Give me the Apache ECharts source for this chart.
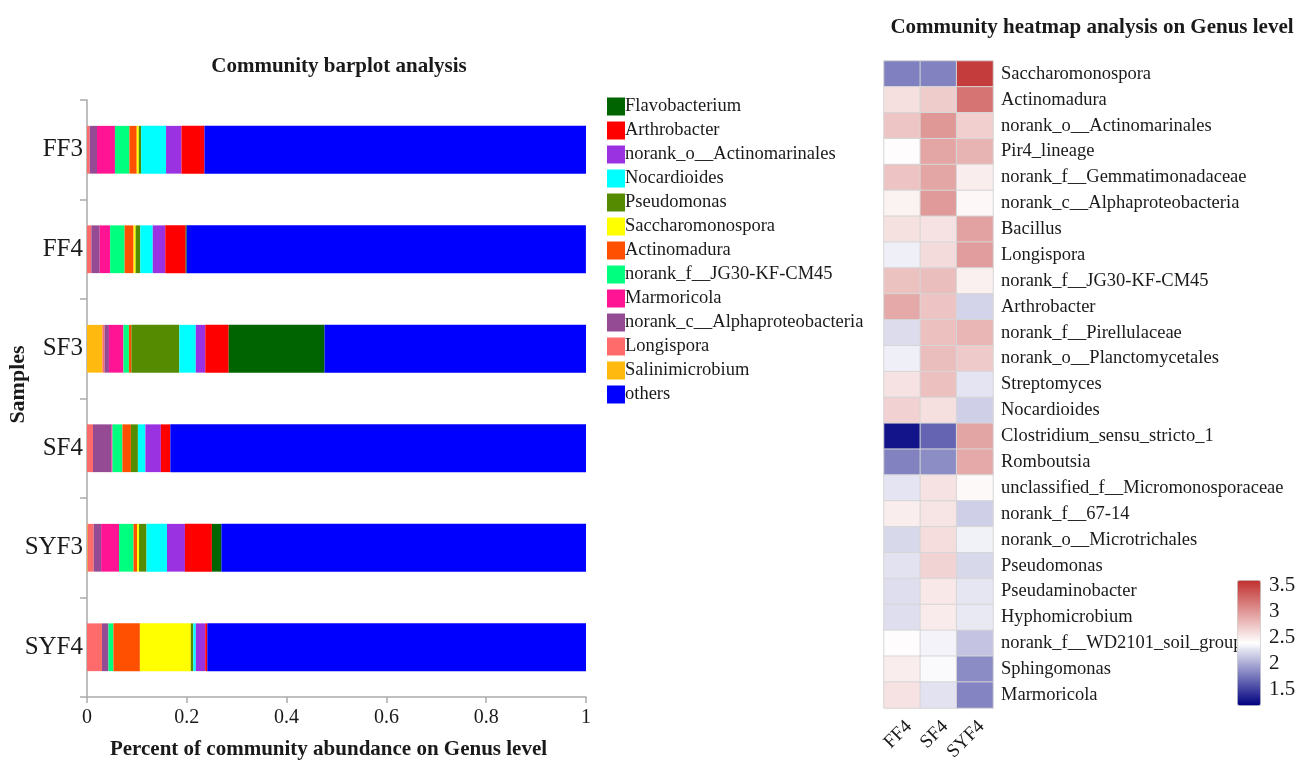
<!DOCTYPE html>
<html>
<head>
<meta charset="utf-8">
<script src="https://cdn.jsdelivr.net/npm/echarts@6/dist/echarts.min.js"></script>
<style>
  html, body { margin: 0; padding: 0; background: #fff; }
  #chart { width: 1299px; height: 762px; }
</style>
</head>
<body>
<div id="chart"></div>
<script>
// Samples shown in the stacked bar panel (top to bottom)
const samples = ['FF3', 'FF4', 'SF3', 'SF4', 'SYF3', 'SYF4'];

// Genera in stacking order (left to right inside each bar)
const genera = [
  'Salinimicrobium', 'Longispora', 'norank_c__Alphaproteobacteria', 'Marmoricola',
  'norank_f__JG30-KF-CM45', 'Actinomadura', 'Saccharomonospora', 'Pseudomonas',
  'Nocardioides', 'norank_o__Actinomarinales', 'Arthrobacter', 'Flavobacterium', 'others'
];

// Legend order (top to bottom)
const legendOrder = [
  'Flavobacterium', 'Arthrobacter', 'norank_o__Actinomarinales', 'Nocardioides',
  'Pseudomonas', 'Saccharomonospora', 'Actinomadura', 'norank_f__JG30-KF-CM45',
  'Marmoricola', 'norank_c__Alphaproteobacteria', 'Longispora', 'Salinimicrobium', 'others'
];

// Relative abundance per genus, one value per sample (FF3, FF4, SF3, SF4, SYF3, SYF4)
const salinimicrobium   = [0,      0,      0.031, 0,     0.0013, 0];
const longispora        = [0.0053, 0.0087, 0.004, 0.012, 0.012,  0.030];
const alphaproteobact   = [0.0147, 0.0167, 0.009, 0.037, 0.015,  0.013];
const marmoricola       = [0.036,  0.021,  0.029, 0.002, 0.036,  0];
const jg30              = [0.029,  0.029,  0.011, 0.020, 0.029,  0.010];
const actinomadura      = [0.0147, 0.018,  0.005, 0.017, 0.007,  0.053];
const saccharomonospora = [0.004,  0.004,  0,     0,     0.004,  0.102];
const pseudomonas       = [0.0047, 0.0094, 0.096, 0.014, 0.015,  0.005];
const nocardioides      = [0.050,  0.025,  0.033, 0.015, 0.041,  0.005];
const actinomarinales   = [0.031,  0.025,  0.019, 0.031, 0.036,  0.019];
const arthrobacter      = [0.046,  0.041,  0.047, 0.019, 0.054,  0.004];
const flavobacterium    = [0,      0.002,  0.192, 0,     0.019,  0];
const others            = [0.765,  0.800,  0.524, 0.833, 0.731,  0.759];

const abundance = [
  salinimicrobium, longispora, alphaproteobact, marmoricola, jg30, actinomadura,
  saccharomonospora, pseudomonas, nocardioides, actinomarinales, arthrobacter,
  flavobacterium, others
];

const genusColors = [
  '#FFB90F', '#FF6A6A', '#954B93', '#FF1493', '#00FF7F', '#FF4F00',
  '#FFFF00', '#548B00', '#00FFFF', '#9A32E2', '#FF0000', '#006400', '#0000FF'
];

const xTicks = [0, 0.2, 0.4, 0.6, 0.8, 1];

// Heatmap: genera (rows, top to bottom) x samples (columns)
const heatSamples = ['FF4', 'SF4', 'SYF4'];
const heatGenera = [
  'Saccharomonospora', 'Actinomadura', 'norank_o__Actinomarinales', 'Pir4_lineage',
  'norank_f__Gemmatimonadaceae', 'norank_c__Alphaproteobacteria', 'Bacillus', 'Longispora',
  'norank_f__JG30-KF-CM45', 'Arthrobacter', 'norank_f__Pirellulaceae',
  'norank_o__Planctomycetales', 'Streptomyces', 'Nocardioides', 'Clostridium_sensu_stricto_1',
  'Romboutsia', 'unclassified_f__Micromonosporaceae', 'norank_f__67-14',
  'norank_o__Microtrichales', 'Pseudomonas', 'Pseudaminobacter', 'Hyphomicrobium',
  'norank_f__WD2101_soil_group', 'Sphingomonas', 'Marmoricola'
];
// log-scaled abundance per row: [FF4, SF4, SYF4]
const heatValues = [
  [1.81, 1.82, 3.53],
  [2.59, 2.70, 3.21],
  [2.74, 3.00, 2.68],
  [2.42, 2.92, 2.84],
  [2.75, 2.92, 2.51],
  [2.48, 2.99, 2.45],
  [2.58, 2.57, 2.94],
  [2.33, 2.61, 2.97],
  [2.76, 2.78, 2.49],
  [2.90, 2.75, 2.20],
  [2.24, 2.77, 2.83],
  [2.33, 2.78, 2.71],
  [2.57, 2.77, 2.28],
  [2.67, 2.59, 2.18],
  [1.30, 1.68, 2.93],
  [1.82, 1.87, 2.90],
  [2.28, 2.57, 2.44],
  [2.51, 2.56, 2.18],
  [2.22, 2.60, 2.34],
  [2.27, 2.66, 2.22],
  [2.25, 2.54, 2.29],
  [2.25, 2.52, 2.30],
  [2.42, 2.35, 2.13],
  [2.51, 2.38, 1.86],
  [2.57, 2.27, 1.83]
];
const colorMin = 1.21;
const colorMax = 3.6;
const colorTicks = [1.5, 2, 2.5, 3, 3.5];

const FONT = 'Liberation Serif';
const TEXT = '#1a1a1a';

const heatData = [];
heatValues.forEach((row, r) => {
  row.forEach((v, c) => heatData.push([c, r, v]));
});

const barSeries = genera.map((name, i) => ({
  name: name,
  type: 'bar',
  stack: 'total',
  xAxisIndex: 0,
  yAxisIndex: 0,
  barWidth: '48%',
  itemStyle: { color: genusColors[i] },
  emphasis: { disabled: true },
  data: abundance[i]
}));

const chart = echarts.init(document.getElementById('chart'), null, { renderer: 'canvas' });

chart.setOption({
  animation: false,
  backgroundColor: '#ffffff',
  title: [
    {
      text: 'Community barplot analysis',
      left: 334, top: 51, textAlign: 'center',
      textStyle: { fontFamily: FONT, fontWeight: 'bold', fontSize: 21, color: TEXT }
    },
    {
      text: 'Community heatmap analysis on Genus level',
      left: 1087, top: 12, textAlign: 'center',
      textStyle: { fontFamily: FONT, fontWeight: 'bold', fontSize: 21, color: TEXT }
    }
  ],
  legend: {
    orient: 'vertical',
    left: 602, top: 92,
    itemWidth: 18, itemHeight: 18, itemGap: 5,
    icon: 'rect',
    selectedMode: false,
    data: legendOrder,
    textStyle: {
      fontFamily: FONT, fontSize: 18.5, color: TEXT, lineHeight: 18,
      padding: [0, 0, 0, -5]
    }
  },
  grid: [
    { left: 87, top: 100, width: 499, height: 597, outerBoundsMode: 'none' },
    { left: 884, top: 61, width: 109, height: 647, outerBoundsMode: 'none' },
    { left: 1237, top: 580, width: 23, height: 125, outerBoundsMode: 'none' }
  ],
  xAxis: [
    {
      gridIndex: 0, type: 'value', min: 0, max: 1, interval: 0.2,
      name: 'Percent of community abundance on Genus level',
      nameLocation: 'middle', nameGap: 42, nameMoveOverlap: false,
      nameTextStyle: {
        fontFamily: FONT, fontWeight: 'bold', fontSize: 21, color: TEXT,
        padding: [0, 16, 0, 0]
      },
      axisLine: { show: true, lineStyle: { color: '#aaaaaa', width: 1.5 } },
      axisTick: { show: true, length: 6, lineStyle: { color: '#aaaaaa', width: 1.5 } },
      splitLine: { show: false },
      axisLabel: {
        fontFamily: FONT, fontSize: 20, color: TEXT, margin: 11,
        customValues: xTicks
      }
    },
    {
      gridIndex: 1, type: 'category', data: heatSamples,
      axisLine: { show: false }, axisTick: { show: false },
      axisLabel: {
        fontFamily: FONT, fontSize: 19, color: TEXT, rotate: 45, margin: 9,
        verticalAlign: 'top'
      }
    },
    { gridIndex: 2, type: 'value', show: false, min: 0, max: 1 }
  ],
  yAxis: [
    {
      gridIndex: 0, type: 'category', data: samples, inverse: true,
      name: 'Samples', nameLocation: 'middle', nameGap: 58, nameRotate: 90,
      nameMoveOverlap: false,
      nameTextStyle: {
        fontFamily: FONT, fontWeight: 'bold', fontSize: 22, color: TEXT,
        padding: [0, 0, 0, 28]
      },
      axisLine: { show: true, lineStyle: { color: '#aaaaaa', width: 1.5 } },
      axisTick: { show: true, length: 7, lineStyle: { color: '#aaaaaa', width: 1.5 } },
      axisLabel: { fontFamily: FONT, fontSize: 25, color: TEXT, margin: 4 }
    },
    {
      gridIndex: 1, type: 'category', data: heatGenera, inverse: true, position: 'right',
      axisLine: { show: false }, axisTick: { show: false },
      axisLabel: { fontFamily: FONT, fontSize: 18.5, color: TEXT, margin: 8, align: 'left' }
    },
    {
      gridIndex: 2, type: 'value', min: colorMin, max: colorMax, position: 'right',
      axisLine: { show: false },
      splitLine: { show: false },
      axisTick: { show: true, length: 5, customValues: colorTicks, lineStyle: { color: '#999999' } },
      axisLabel: { fontFamily: FONT, fontSize: 21, color: TEXT, margin: 9, customValues: colorTicks }
    }
  ],
  visualMap: {
    type: 'continuous',
    seriesIndex: genera.length,
    min: colorMin, max: colorMax,
    calculable: false,
    left: 1237, top: 580,
    padding: 0,
    itemWidth: 23, itemHeight: 125,
    text: null,
    showLabel: false,
    borderColor: '#d0d0d0', borderWidth: 1,
    inRange: { color: ['#000080', '#ffffff', '#c0302f'] }
  },
  series: barSeries.concat([
    {
      type: 'heatmap',
      xAxisIndex: 1, yAxisIndex: 1,
      data: heatData,
      itemStyle: { borderColor: '#d6d6d6', borderWidth: 1 },
      emphasis: { disabled: true }
    }
  ])
});
</script>
</body>
</html>
